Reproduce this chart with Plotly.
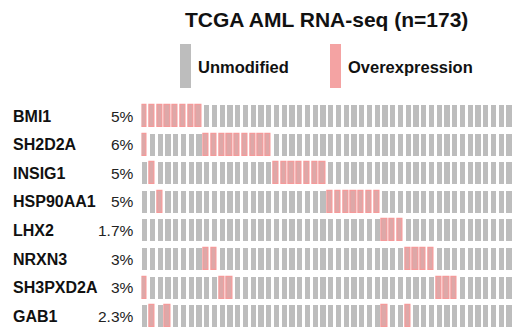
import plotly.graph_objects as go

# Oncoprint: TCGA AML RNA-seq, overexpression events per gene (visible columns)
genes = ["BMI1", "SH2D2A", "INSIG1", "HSP90AA1", "LHX2", "NRXN3", "SH3PXD2A", "GAB1"]
pct_labels = ["5%", "6%", "5%", "5%", "1.7%", "3%", "3%", "2.3%"]
n_cols = 48  # sample columns shown

# altered sample (column) indices per gene
altered = {
    "BMI1": [0, 1, 2, 3, 4, 5, 6, 7],
    "SH2D2A": [0, 8, 9, 10, 11, 12, 13, 14, 15, 16],
    "INSIG1": [1, 17, 18, 19, 20, 21, 22, 23],
    "HSP90AA1": [2, 24, 25, 26, 27, 28, 29, 30],
    "LHX2": [31, 32, 33],
    "NRXN3": [8, 9, 34, 35, 36, 37],
    "SH3PXD2A": [0, 10, 11, 38, 39, 40],
    "GAB1": [1, 3, 31, 34],
}

GRAY = "#BDBDBD"
PINK = "#F4A3A3"
FONT = "Arial, Liberation Sans, sans-serif"
BAR_H = 0.77
BAR_W = 0.69

fig = go.Figure()
for r, g in enumerate(genes):
    alt = set(altered[g])
    gx = [c for c in range(n_cols) if c not in alt]
    px_ = [c for c in range(n_cols) if c in alt]
    fig.add_trace(go.Bar(
        x=gx, y=[BAR_H] * len(gx), base=[r - BAR_H / 2] * len(gx),
        width=BAR_W, marker=dict(color=GRAY, line=dict(width=0)),
        showlegend=False, hoverinfo="skip"))
    fig.add_trace(go.Bar(
        x=px_, y=[BAR_H] * len(px_), base=[r - BAR_H / 2] * len(px_),
        width=BAR_W, marker=dict(color="#DDA8A8", line=dict(color="#F59A9A", width=1.2)),
        showlegend=False, hoverinfo="skip"))

annotations = []
for r, g in enumerate(genes):
    annotations.append(dict(x=11 / 512, y=r, xref="paper", yref="y", text=f"<b>{g}</b>",
                            showarrow=False, xanchor="left", yanchor="middle",
                            font=dict(family=FONT, size=16, color="#111")))
    annotations.append(dict(x=136 / 512, y=r, xref="paper", yref="y", text=pct_labels[r],
                            showarrow=False, xanchor="right", yanchor="middle",
                            font=dict(family=FONT, size=15.5, color="#222")))

# title and legend
annotations.append(dict(x=326 / 512, y=1 - 19 / 333, xref="paper", yref="paper",
                        text="<b>TCGA AML RNA-seq (n=173)</b>", showarrow=False,
                        xanchor="center", yanchor="middle",
                        font=dict(family=FONT, size=21, color="#111")))
annotations.append(dict(x=196 / 512, y=1 - 67 / 333, xref="paper", yref="paper",
                        text="<b>Unmodified</b>", showarrow=False, xanchor="left",
                        yanchor="middle", font=dict(family=FONT, size=16.5, color="#111")))
annotations.append(dict(x=346 / 512, y=1 - 67 / 333, xref="paper", yref="paper",
                        text="<b>Overexpression</b>", showarrow=False, xanchor="left",
                        yanchor="middle", font=dict(family=FONT, size=16.5, color="#111")))

shapes = [
    dict(type="rect", xref="paper", yref="paper", x0=180 / 512, x1=191 / 512,
         y0=1 - 88 / 333, y1=1 - 44 / 333, fillcolor=GRAY, line=dict(width=0)),
    dict(type="rect", xref="paper", yref="paper", x0=330 / 512, x1=341 / 512,
         y0=1 - 88 / 333, y1=1 - 44 / 333, fillcolor=PINK, line=dict(width=0)),
]

pitch = 7.75
c0 = 144.3
row0 = 116.0
row_pitch = 28.6

fig.update_layout(
    width=512, height=333, margin=dict(l=0, r=0, t=0, b=0),
    paper_bgcolor="white", plot_bgcolor="white",
    barmode="overlay", bargap=0,
    xaxis=dict(domain=[141.5 / 512, 1], range=[(141.5 - c0) / pitch, (512 - c0) / pitch],
               visible=False, fixedrange=True),
    yaxis=dict(domain=[0, 1], range=[(333 - row0) / row_pitch, (0 - row0) / row_pitch],
               visible=False, fixedrange=True),
    annotations=annotations, shapes=shapes,
)

fig.write_html("out.html")
